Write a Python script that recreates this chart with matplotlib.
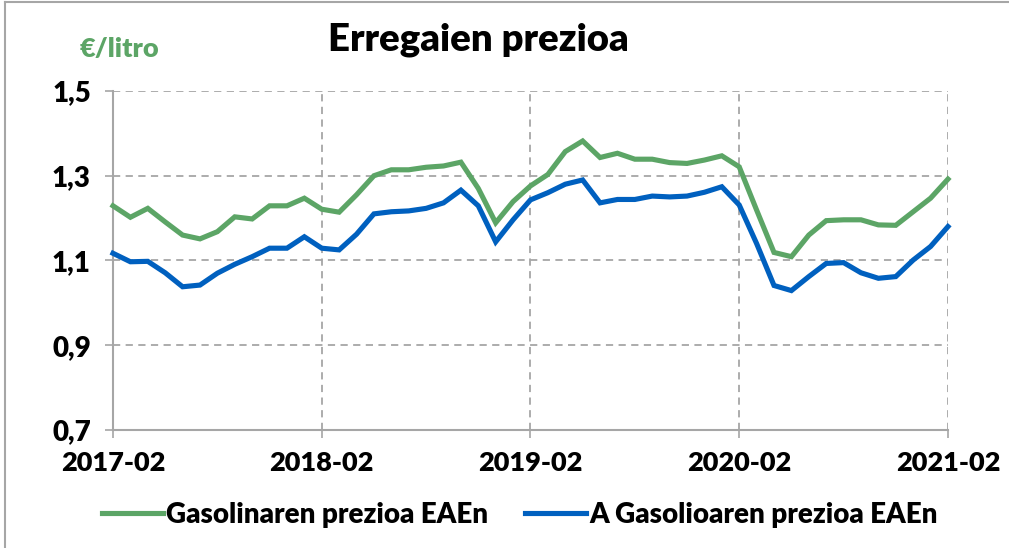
import numpy as np
import pandas as pd
import matplotlib.pyplot as plt
from matplotlib.lines import Line2D

plt.rcParams['font.family'] = ['Lato', 'DejaVu Sans']

months = [p.strftime('%Y-%m') for p in pd.period_range('2017-02', '2021-02', freq='M')]

gasolina = [1.229, 1.202, 1.223, 1.191, 1.160, 1.151, 1.168, 1.203, 1.198, 1.229, 1.229, 1.247,
            1.221, 1.214, 1.255, 1.300, 1.314, 1.314, 1.320, 1.323, 1.332, 1.270, 1.189, 1.239,
            1.276, 1.303, 1.357, 1.382, 1.343, 1.353, 1.339, 1.339, 1.331, 1.329, 1.337, 1.347,
            1.321, 1.219, 1.119, 1.109, 1.160, 1.194, 1.196, 1.196, 1.184, 1.183, 1.215, 1.247,
            1.292]
gasolioa = [1.117, 1.097, 1.098, 1.071, 1.038, 1.042, 1.070, 1.091, 1.109, 1.129, 1.129, 1.156,
            1.129, 1.125, 1.162, 1.210, 1.215, 1.217, 1.223, 1.236, 1.266, 1.229, 1.144, 1.196,
            1.243, 1.260, 1.280, 1.290, 1.236, 1.244, 1.244, 1.252, 1.250, 1.252, 1.261, 1.274,
            1.231, 1.140, 1.041, 1.029, 1.062, 1.093, 1.095, 1.071, 1.058, 1.062, 1.101, 1.133,
            1.180]
yticks = [0.7, 0.9, 1.1, 1.3, 1.5]

green = '#5ca566'
blue = '#0060bf'
grey = '#a6a6a6'

fig = plt.figure(figsize=(10.09, 5.48), dpi=100)
ax = fig.add_axes([0.112, 0.2153, 0.8275, 0.6187])

x = np.arange(len(months))
ax.plot(x, gasolina, color=green, lw=3.7, clip_on=False, zorder=3, solid_joinstyle='miter')
ax.plot(x, gasolioa, color=blue, lw=3.7, clip_on=False, zorder=3, solid_joinstyle='miter')

ax.set_xlim(0, 48)
ax.set_ylim(0.7, 1.5)
xt = [0, 12, 24, 36, 48]
ax.set_xticks(xt)
ax.set_xticklabels([months[i] for i in xt], fontsize=19.5, fontweight='heavy')
ax.set_yticks(yticks)
ax.set_yticklabels([('%.1f' % v).replace('.', ',') for v in yticks], fontsize=20, fontweight='heavy')
ax.tick_params(axis='both', colors=grey, labelcolor='black', length=6, width=1.2, direction='out')
ax.tick_params(axis='x', pad=9)
ax.tick_params(axis='y', pad=10)

ax.grid(True, color=grey, linestyle=(0, (4, 3)), lw=1.3)
for s in ['top', 'right']:
    ax.spines[s].set_visible(False)
for s in ['left', 'bottom']:
    ax.spines[s].set_color(grey)
    ax.spines[s].set_linewidth(1.5)

fig.text(0.474, 0.928, 'Erregaien prezioa', ha='center', va='center', fontsize=27.5, fontweight='heavy')
fig.text(0.079, 0.91, '€/litro', ha='left', va='center', fontsize=19.5, fontweight='heavy', color=green)

handles = [Line2D([], [], color=green, lw=3.7), Line2D([], [], color=blue, lw=3.7)]
fig.legend(handles, ['Gasolinaren prezioa EAEn', 'A Gasolioaren prezioa EAEn'],
           loc='center', bbox_to_anchor=(0.515, 0.06), ncol=2, frameon=False,
           prop={'size': 20, 'weight': 'heavy'}, handlelength=2.2, handletextpad=0.12,
           columnspacing=1.3)

fig.add_artist(Line2D([0.005, 0.005], [0, 0.997], color=grey, lw=1.5, transform=fig.transFigure))
fig.add_artist(Line2D([0.005, 1.0], [0.997, 0.997], color=grey, lw=1.5, transform=fig.transFigure))

fig.savefig('out.png', dpi=100)
